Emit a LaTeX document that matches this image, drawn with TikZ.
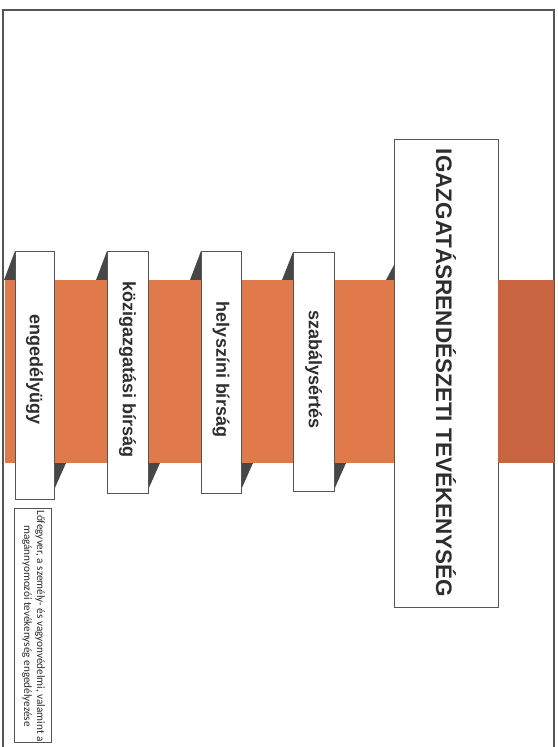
\documentclass[tikz,border=0pt]{standalone}
\usepackage{fontspec}
\setmainfont{Liberation Sans}
\newfontfamily\notefont{Carlito}
\usetikzlibrary{positioning, backgrounds}

\definecolor{bandorange}{HTML}{E17A4B}
\definecolor{banddark}{HTML}{C8643F}
\definecolor{foldgray}{HTML}{474747}
\definecolor{labelgray}{HTML}{2E2E2E}
\definecolor{framegray}{HTML}{555555}

\begin{document}
\begin{tikzpicture}[x=1pt, y=-1pt,
		% Styles
		band/.style={fill=bandorange, inner sep=0pt, outer sep=0pt},
		stripbox/.style={draw=framegray, line width=0.8pt, fill=white, inner sep=0pt, outer sep=0pt},
		striplabel/.style={rotate=-90, font=\bfseries\fontsize{18}{20}\selectfont, text=labelgray},
		fold/.style={fill=foldgray}
		]
		\useasboundingbox (0,0) rectangle (557,747);
		
		% =========================================================
		% 1. PAGE FRAME AND ORANGE BAND
		% =========================================================
		\draw[framegray, line width=1.6pt] (3,747) -- (3,10) -- (554,10) -- (554,747);
		
		\node[band, minimum width=549pt, minimum height=183pt, anchor=north west] (band) at (5,280) {};
		
		% =========================================================
		% 2. STRIPS ON THE BAND
		% =========================================================
		\node[stripbox, minimum width=39pt, minimum height=248pt] (engedely) at (34.5,375) {};
		\node[stripbox, minimum width=41pt, minimum height=242pt] (kozig) at (127.5,372) {};
		\node[stripbox, minimum width=40pt, minimum height=242pt] (helyszin) at (221,372) {};
		\node[stripbox, minimum width=41pt, minimum height=239pt] (szabaly) at (313.5,371.5) {};
		
		% Main box
		\node[stripbox, minimum width=104pt, minimum height=468pt] (igazgatas) at (446,373) {};
		\fill[banddark] (igazgatas.east |- band.north) rectangle (band.south east);
		
		% Folded ends
		\begin{scope}[on background layer]
			\foreach \b in {engedely, kozig, helyszin, szabaly} {
				\fill[fold] (\b.north west) -- (\b.west |- band.north) -- ++(-11,0) -- cycle;
				\fill[fold] (\b.east |- band.south) -- ++(12,0) -- ++(-12,27) -- cycle;
			}
			\fill[fold] ([yshift=15pt]igazgatas.west |- band.north) -- (igazgatas.west |- band.north) -- ++(-8,0) -- cycle;
		\end{scope}
		
		% =========================================================
		% 3. LABELS
		% =========================================================
		\node[striplabel] (engedelyText) at ([yshift=2pt]engedely |- band.center) {engedélyügy};
		\node[striplabel] (kozigText) at ([yshift=2pt]kozig |- band.center) {közigazgatási bírság};
		\node[striplabel] (helyszinText) at ([yshift=2pt]helyszin |- band.center) {helyszíni bírság};
		\node[striplabel] (szabalyText) at ([yshift=2pt]szabaly |- band.center) {szabálysértés};
		\node[striplabel, font=\bfseries\fontsize{22.5}{24}\selectfont] (igazgatasText) at (igazgatas.center) {IGAZGATÁSRENDÉSZETI TEVÉKENYSÉG};
		
		% =========================================================
		% 4. NOTE BOX
		% =========================================================
		\node[stripbox, minimum width=37pt, minimum height=234pt] (note) at (32.5,625) {};
		\node[rotate=-90, align=center, text=labelgray, inner sep=0pt, font=\notefont\fontsize{11.2}{13}\selectfont] (noteText) at ([xshift=1pt, yshift=-1pt]note.center) {Lőfegyver, a személy- és vagyonvédelmi, valamint a\\magánnyomozói tevékenység engedélyezése};
		
	\end{tikzpicture}
\end{document}
